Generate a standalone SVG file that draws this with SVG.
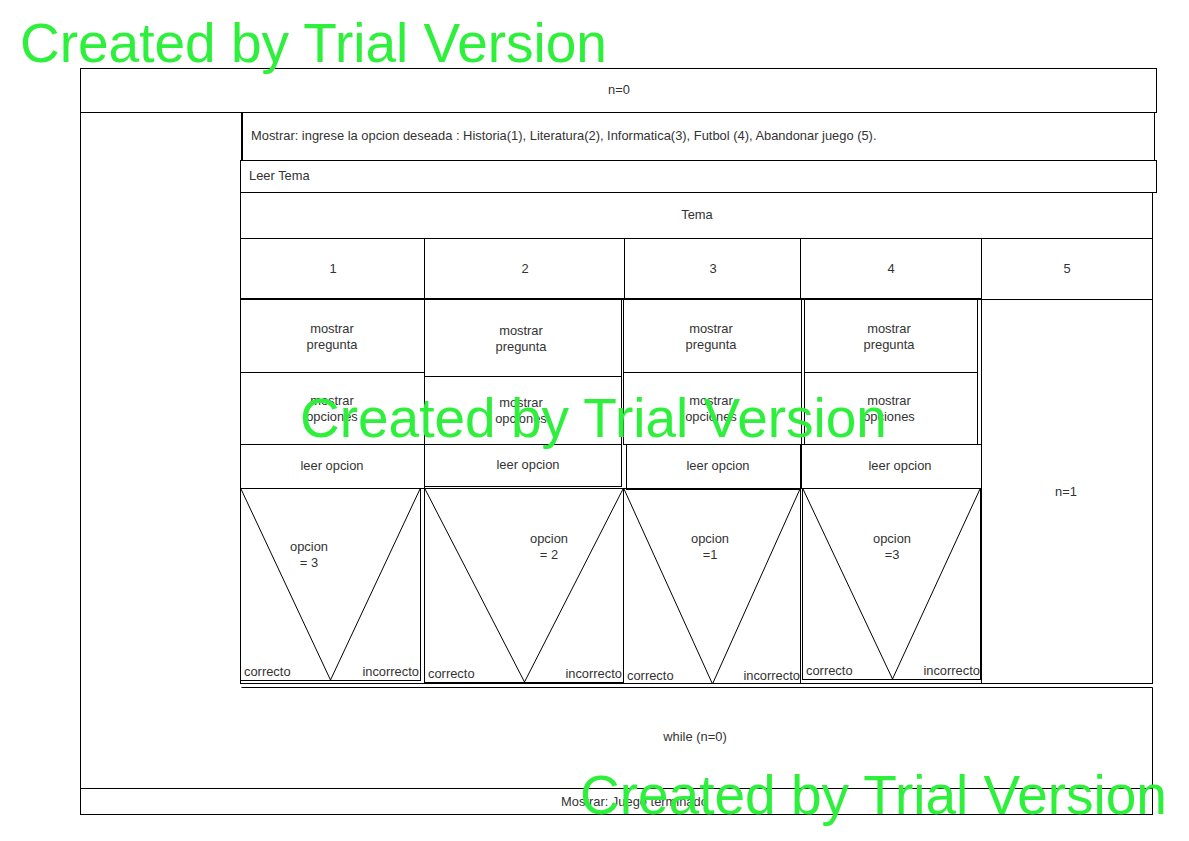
<svg xmlns="http://www.w3.org/2000/svg" width="1189" height="841" viewBox="0 0 1189 841">
<style>
.b{fill:none;stroke:#000;stroke-width:1}
.b2{fill:none;stroke:#000;stroke-width:2}
.t{font-family:"Liberation Sans",Arial,sans-serif;font-size:12.9px;fill:#333}
.c{text-anchor:middle}
.e{text-anchor:end}
.w{font-family:"Liberation Sans",Arial,sans-serif;font-size:55px;fill:#2ef03c}
</style>
<rect width="1189" height="841" fill="#fff"/>

<g id="init">
<rect class="b" x="80.5" y="68.5" width="1076" height="44"/>
<text class="t c" x="619" y="94">n=0</text>
</g>

<g id="loop">
<line class="b" x1="80.5" y1="112" x2="80.5" y2="814.5"/>
</g>

<g id="mostrar-menu">
<rect class="b" x="241.5" y="112.5" width="913" height="48"/>
<line class="b2" x1="242" y1="112" x2="242" y2="160"/>
<text class="t" x="251" y="140">Mostrar: ingrese la opcion deseada : Historia(1), Literatura(2), Informatica(3), Futbol (4), Abandonar juego (5).</text>
</g>

<g id="leer-tema">
<rect class="b" x="240.5" y="160.5" width="916" height="32"/>
<text class="t" x="249" y="180">Leer Tema</text>
</g>

<g id="tema">
<rect class="b" x="240.5" y="192.5" width="912" height="491"/>
<line class="b" x1="240.5" y1="238.5" x2="1152.5" y2="238.5"/>
<text class="t c" x="697" y="219">Tema</text>
<line class="b" x1="424.5" y1="238.5" x2="424.5" y2="299.5"/>
<line class="b" x1="624.5" y1="238.5" x2="624.5" y2="299.5"/>
<line class="b" x1="800.5" y1="238.5" x2="800.5" y2="299.5"/>
<line class="b" x1="981.5" y1="238.5" x2="981.5" y2="684"/>
<line class="b2" x1="240" y1="299" x2="981" y2="299"/>
<line class="b" x1="981.5" y1="299.5" x2="1152.5" y2="299.5"/>
<text class="t c" x="333" y="273">1</text>
<text class="t c" x="525" y="273">2</text>
<text class="t c" x="713" y="273">3</text>
<text class="t c" x="891" y="273">4</text>
<text class="t c" x="1067" y="273">5</text>
</g>

<g id="col1">
<rect class="b" x="240.5" y="299.5" width="184" height="73"/>
<text class="t c" x="332" y="333">mostrar</text>
<text class="t c" x="332" y="349">pregunta</text>
<rect class="b" x="240.5" y="372.5" width="184" height="72"/>
<text class="t c" x="332" y="405">mostrar</text>
<text class="t c" x="332" y="421">opciones</text>
<rect class="b" x="240.5" y="444.5" width="184" height="44"/>
<text class="t c" x="332" y="470">leer opcion</text>
<rect class="b" x="240.5" y="488.5" width="180" height="192"/>
<polyline class="b" points="241,489 330.5,680 420,489"/>
<text class="t c" x="309" y="551">opcion</text>
<text class="t c" x="309" y="567">= 3</text>
<text class="t" x="244" y="676">correcto</text>
<text class="t e" x="419" y="676">incorrecto</text>
</g>

<g id="col2">
<rect class="b" x="424.5" y="299.5" width="197" height="77"/>
<text class="t c" x="521" y="335">mostrar</text>
<text class="t c" x="521" y="351">pregunta</text>
<rect class="b" x="424.5" y="376.5" width="197" height="68"/>
<text class="t c" x="521" y="407">mostrar</text>
<text class="t c" x="521" y="423">opciones</text>
<rect class="b" x="424.5" y="444.5" width="197" height="42"/>
<text class="t c" x="528" y="469">leer opcion</text>
<rect class="b" x="424.5" y="488.5" width="199" height="194"/>
<polyline class="b" points="425,489 524.5,682 623,489"/>
<text class="t c" x="549" y="543">opcion</text>
<text class="t c" x="549" y="559">= 2</text>
<text class="t" x="428" y="678">correcto</text>
<text class="t e" x="622" y="678">incorrecto</text>
</g>

<g id="col3">
<rect class="b" x="623.5" y="299.5" width="178" height="73"/>
<text class="t c" x="711" y="333">mostrar</text>
<text class="t c" x="711" y="349">pregunta</text>
<rect class="b" x="623.5" y="372.5" width="178" height="72"/>
<text class="t c" x="711" y="405">mostrar</text>
<text class="t c" x="711" y="421">opciones</text>
<rect class="b" x="626.5" y="444.5" width="174" height="45"/>
<text class="t c" x="718" y="470">leer opcion</text>
<rect class="b" x="623.5" y="488.5" width="177" height="195"/>
<polyline class="b" points="624,489 712.5,684 800,489"/>
<text class="t c" x="710" y="543">opcion</text>
<text class="t c" x="710" y="559">=1</text>
<text class="t" x="627" y="680">correcto</text>
<text class="t e" x="800" y="680">incorrecto</text>
</g>

<g id="col4">
<rect class="b" x="804.5" y="299.5" width="173" height="73"/>
<text class="t c" x="889" y="333">mostrar</text>
<text class="t c" x="889" y="349">pregunta</text>
<rect class="b" x="804.5" y="372.5" width="173" height="72"/>
<text class="t c" x="889" y="405">mostrar</text>
<text class="t c" x="889" y="421">opciones</text>
<rect class="b" x="801.5" y="444.5" width="180" height="44"/>
<text class="t c" x="900" y="470">leer opcion</text>
<rect class="b" x="802.5" y="488.5" width="178" height="191"/>
<polyline class="b" points="803,489 892.5,679 980,489"/>
<text class="t c" x="892" y="543">opcion</text>
<text class="t c" x="892" y="559">=3</text>
<text class="t" x="806" y="675">correcto</text>
<text class="t e" x="980" y="675">incorrecto</text>
</g>

<g id="col5">
<text class="t c" x="1066" y="496">n=1</text>
</g>

<g id="while">
<polyline class="b" points="241.5,687.5 1152.5,687.5 1152.5,788.5"/>
<text class="t c" x="695" y="741">while (n=0)</text>
</g>

<g id="fin">
<rect class="b" x="80.5" y="788.5" width="1072" height="26"/>
<text class="t" x="561" y="806">Mostrar: Juego terminado</text>
</g>

<g id="connectors"></g>

<g id="watermarks">
<text class="w" x="20" y="62">Created by Trial Version</text>
<text class="w" x="300" y="437">Created by Trial Version</text>
<text class="w" x="580" y="814">Created by Trial Version</text>
</g>
</svg>
